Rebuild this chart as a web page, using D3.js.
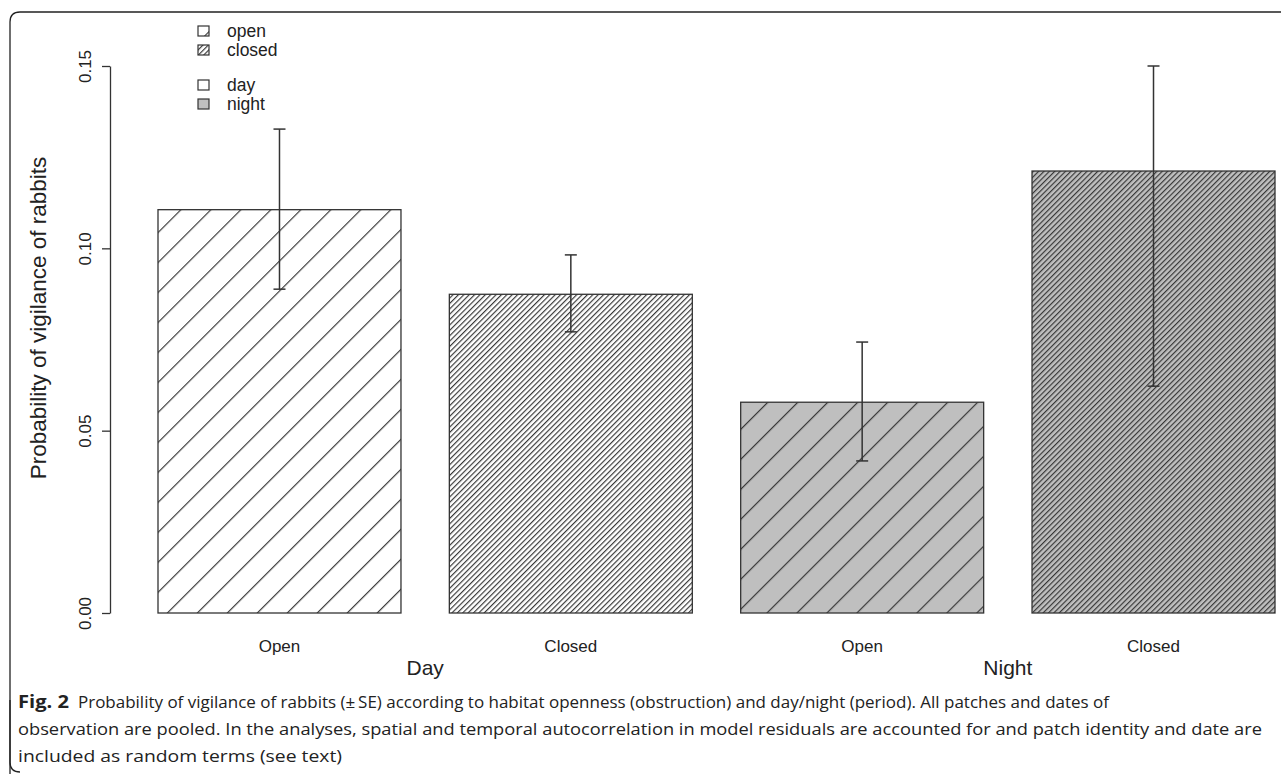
<!DOCTYPE html>
<html><head><meta charset="utf-8">
<script src="https://cdn.jsdelivr.net/npm/d3@7/dist/d3.min.js"></script>
<style>
body{margin:0;background:#fff;}
svg{display:block;}
</style></head>
<body><svg id="c" width="1281" height="774"></svg>
<script>
// ---- data ----
const categories = ["Open", "Closed", "Open", "Closed"];
const periods = ["Day", "Night"];
const habitat = ["open", "closed", "open", "closed"];
const period = ["day", "day", "night", "night"];
const values = [0.1106, 0.0874, 0.0578, 0.1212];
const seLow = [0.0888, 0.0771, 0.0417, 0.0622];
const seHigh = [0.1327, 0.0982, 0.0743, 0.1500];
const yTicks = [0, 0.05, 0.10, 0.15];
const legendHabitat = ["open", "closed"];
const legendPeriod = ["day", "night"];
const yTitle = "Probability of vigilance of rabbits";
const captionBold = "Fig. 2";
const captionLines = [
  "Probability of vigilance of rabbits (\u00B1\u2009SE) according to habitat openness (obstruction) and day/night (period). All patches and dates of",
  "observation are pooled. In the analyses, spatial and temporal autocorrelation in model residuals are accounted for and patch identity and date are",
  "included as random terms (see text)"
];

const svg = d3.select("#c");
const F = "'Liberation Sans', Arial, sans-serif";

// frame
svg.append("path")
  .attr("d", "M10,1300 L10,22 Q10,12 20,12 L1300,12")
  .attr("fill", "none").attr("stroke", "#222").attr("stroke-width", 1.3);
svg.append("path")
  .attr("d", "M10,700 L10,762 Q10,772 20,772")
  .attr("fill", "none").attr("stroke", "#222").attr("stroke-width", 1.3);

// patterns
const defs = svg.append("defs");
function pat(id, spacing, bg) {
  const p = defs.append("pattern").attr("id", id)
    .attr("patternUnits", "userSpaceOnUse")
    .attr("width", spacing).attr("height", 10)
    .attr("patternTransform", "rotate(45)");
  p.append("rect").attr("width", spacing).attr("height", 10).attr("fill", bg);
  p.append("line").attr("x1", 0.6).attr("x2", 0.6).attr("y1", 0).attr("y2", 10)
    .attr("stroke", "#333").attr("stroke-width", 1.15);
}
const fills = {day: "#ffffff", night: "#bfbfbf"};
const spacing = {open: 21.2, closed: 3.8};
["open", "closed"].forEach(h => ["day", "night"].forEach(p => pat(`p-${h}-${p}`, spacing[h], fills[p])));

// scales
const y = d3.scaleLinear().domain([0, 0.15]).range([613, 66]);
const x = d3.scaleBand().domain(d3.range(categories.length))
  .range([158, 1275]).paddingInner(0.166).paddingOuter(0);

// bars
const g = svg.append("g");
g.selectAll("rect.bar").data(values).join("rect").attr("class", "bar")
  .attr("x", (d, i) => x(i)).attr("width", x.bandwidth())
  .attr("y", d => y(d)).attr("height", d => y(0) - y(d))
  .attr("fill", (d, i) => `url(#p-${habitat[i]}-${period[i]})`)
  .attr("stroke", "#333").attr("stroke-width", 1.3);

// error bars
const eb = g.selectAll("g.eb").data(values).join("g").attr("class", "eb")
  .attr("stroke", "#333").attr("stroke-width", 1.5);
eb.append("line").attr("x1", (d, i) => x(i) + x.bandwidth() / 2).attr("x2", (d, i) => x(i) + x.bandwidth() / 2)
  .attr("y1", (d, i) => y(seLow[i])).attr("y2", (d, i) => y(seHigh[i]));
[seLow, seHigh].forEach(arr => {
  eb.append("line").attr("x1", (d, i) => x(i) + x.bandwidth() / 2 - 6).attr("x2", (d, i) => x(i) + x.bandwidth() / 2 + 6)
    .attr("y1", (d, i) => y(arr[i])).attr("y2", (d, i) => y(arr[i]));
});

// y axis
const ax = svg.append("g").attr("transform", "translate(110,0)")
  .call(d3.axisLeft(y).tickValues(yTicks).tickFormat(d3.format(".2f")).tickSizeInner(8).tickSizeOuter(0));
ax.select(".domain").attr("stroke", "#333").attr("stroke-width", 1.3);
ax.selectAll(".tick line").attr("stroke", "#333").attr("stroke-width", 1.3);
ax.selectAll(".tick text")
  .attr("font-family", F).attr("font-size", 17).attr("fill", "#222")
  .attr("x", 0).attr("dy", 0)
  .attr("text-anchor", "middle")
  .attr("transform", "translate(-19,0) rotate(-90)");

svg.append("text").attr("transform", "translate(46,318) rotate(-90)")
  .attr("text-anchor", "middle").attr("font-family", F).attr("font-size", 22.5).attr("fill", "#222")
  .text(yTitle);

// x labels
svg.selectAll("text.cat").data(categories).join("text").attr("class", "cat")
  .attr("x", (d, i) => x(i) + x.bandwidth() / 2).attr("y", 652)
  .attr("text-anchor", "middle").attr("font-family", F).attr("font-size", 17).attr("fill", "#222")
  .text(d => d);
svg.selectAll("text.per").data(periods).join("text").attr("class", "per")
  .attr("x", (d, i) => (x(2 * i) + x(2 * i + 1) + x.bandwidth()) / 2).attr("y", 675)
  .attr("text-anchor", "middle").attr("font-family", F).attr("font-size", 21).attr("fill", "#222")
  .text(d => d);

// legend
const leg = [
  {label: legendHabitat[0], fill: "url(#p-open-day)", y: 31},
  {label: legendHabitat[1], fill: "url(#p-closed-day)", y: 50},
  {label: legendPeriod[0], fill: fills.day, y: 85},
  {label: legendPeriod[1], fill: fills.night, y: 104}
];
const lg = svg.append("g");
lg.selectAll("rect").data(leg).join("rect")
  .attr("x", 198).attr("y", d => d.y - 5).attr("width", 11).attr("height", 10)
  .attr("fill", d => d.fill).attr("stroke", "#333").attr("stroke-width", 1.2);
lg.selectAll("text").data(leg).join("text")
  .attr("x", 227).attr("y", d => d.y + 6)
  .attr("font-family", F).attr("font-size", 17.5).attr("fill", "#222")
  .text(d => d.label);

// caption
const CF = "'Open Sans', sans-serif";
const capX = [78, 18, 18];
const capW = [1031, 1244, 324];
const capY = [708, 735, 762];
svg.append("text").attr("x", 18).attr("y", capY[0])
  .attr("font-family", CF).attr("font-size", 17.5).attr("font-weight", "bold").attr("fill", "#222")
  .attr("textLength", 51).attr("lengthAdjust", "spacingAndGlyphs")
  .text(captionBold);
captionLines.forEach((line, i) => {
  svg.append("text").attr("x", capX[i]).attr("y", capY[i])
    .attr("font-family", CF).attr("font-size", 16.5).attr("fill", "#222")
    .attr("textLength", capW[i]).attr("lengthAdjust", "spacingAndGlyphs")
    .text(line);
});
</script>
</body></html>
